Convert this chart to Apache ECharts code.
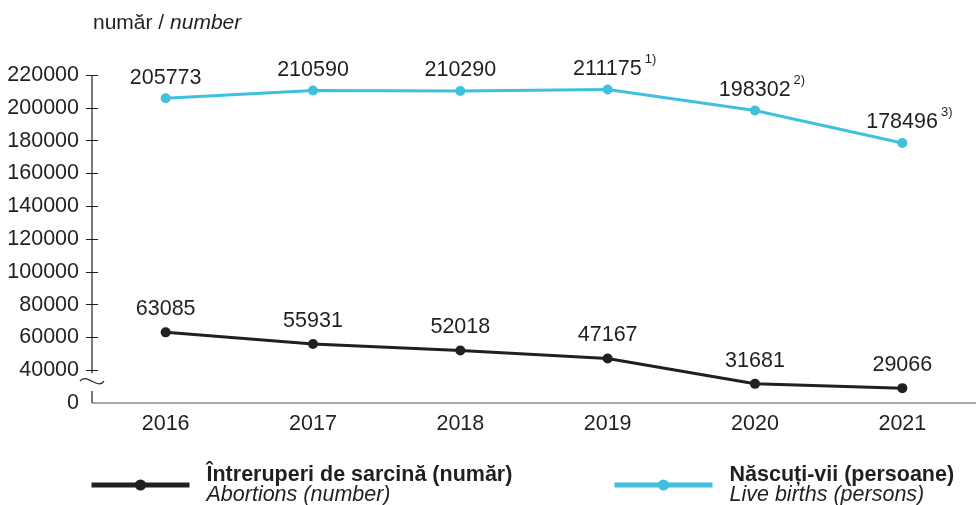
<!DOCTYPE html>
<html>
<head>
<meta charset="utf-8">
<script src="https://cdn.jsdelivr.net/npm/echarts@6/dist/echarts.min.js"></script>
<style>
  html, body { margin: 0; padding: 0; background: #fff; }
  #chart { width: 976px; height: 505px; }
</style>
</head>
<body>
<div id="chart"></div>
<script>
  // date grafic
  const years = ['2016', '2017', '2018', '2019', '2020', '2021'];
  const births = [205773, 210590, 210290, 211175, 198302, 178496];
  const abortions = [63085, 55931, 52018, 47167, 31681, 29066];
  const birthNotes = ['', '', '', '1)', '2)', '3)'];
  const yTicks = [40000, 60000, 80000, 100000, 120000, 140000, 160000, 180000, 200000, 220000];
  const nameAbort = 'Întreruperi de sarcină (număr)';
  const subAbort = 'Abortions (number)';
  const nameBirth = 'Născuți-vii (persoane)';
  const subBirth = 'Live births (persons)';

  const DARK = '#231f20';
  const CYAN = '#3fc1dd';
  const GREY = '#8c8c8c';
  const FONT = '"Liberation Sans", Arial, sans-serif';
  const FS = 21.5;

  const chart = echarts.init(document.getElementById('chart'));

  function legendOpt(name, sub, left) {
    return {
      data: [name],
      left: left,
      top: 464,
      padding: 0,
      itemWidth: 98,
      itemHeight: 14,
      lineStyle: { width: 5 },
      formatter: n => '{b|' + n + '}\n{i|' + sub + '}',
      textStyle: {
        lineHeight: 20,
        rich: {
          b: { fontFamily: FONT, fontSize: FS, fontWeight: 'bold', color: DARK, lineHeight: 20, padding: [0, 0, 0, 12] },
          i: { fontFamily: FONT, fontSize: FS, fontStyle: 'italic', color: DARK, lineHeight: 20, padding: [0, 0, 0, 12] }
        }
      }
    };
  }

  // punctele cu note de subsol: textul centrat pe punct, nota atârnă la dreapta
  const birthData = births.map((v, i) => ({
    value: v,
    label: { offset: [birthNotes[i] ? 7 : 0, 0] }
  }));

  const option = {
    animation: false,
    textStyle: { fontFamily: FONT },
    title: {
      text: '{a|număr / }{b|number}',
      left: 93,
      top: 13,
      padding: 0,
      textStyle: {
        rich: {
          a: { fontFamily: FONT, fontSize: 21, fontWeight: 'normal', color: DARK },
          b: { fontFamily: FONT, fontSize: 21, fontWeight: 'normal', color: DARK, fontStyle: 'italic' }
        }
      }
    },
    legend: [legendOpt(nameAbort, subAbort, 89), legendOpt(nameBirth, subBirth, 612)],
    grid: { left: 92, right: -8, top: 75, bottom: 102 },
    xAxis: {
      type: 'category',
      data: years,
      offset: -3,
      axisLine: { show: false },
      axisTick: { length: 7, lineStyle: { color: '#444' } },
      axisLabel: { fontFamily: FONT, fontSize: FS, color: DARK, margin: 13 }
    },
    yAxis: {
      type: 'value',
      min: 20000,
      max: 220000,
      interval: 20000,
      offset: -6,
      axisLine: { show: false },
      axisTick: { show: true, length: 12, customValues: yTicks, lineStyle: { color: DARK } },
      splitLine: { show: false },
      axisLabel: {
        fontFamily: FONT, fontSize: FS, color: DARK, margin: 19,
        formatter: v => v === 20000 ? '0' : String(v)
      }
    },
    series: [{
      name: nameAbort,
      type: 'line',
      data: abortions,
      symbol: 'circle',
      symbolSize: 10,
      lineStyle: { color: DARK, width: 3 },
      itemStyle: { color: DARK },
      label: {
        show: true, position: 'top', distance: 7,
        fontFamily: FONT, fontSize: FS, color: DARK
      }
    }, {
      name: nameBirth,
      type: 'line',
      data: birthData,
      symbol: 'circle',
      symbolSize: 10,
      lineStyle: { color: CYAN, width: 3 },
      itemStyle: { color: CYAN },
      label: {
        show: true, position: 'top', distance: -1,
        formatter: p => birthNotes[p.dataIndex]
          ? '{v|' + p.value + '}{s|' + birthNotes[p.dataIndex] + '}'
          : '{v|' + p.value + '}',
        rich: {
          v: { fontFamily: FONT, fontSize: FS, color: DARK, lineHeight: 33 },
          s: { fontFamily: FONT, fontSize: 13, color: DARK, verticalAlign: 'top', padding: [0, 0, 20, 3] }
        }
      }
    }]
  };

  chart.setOption(option);

  // axele: Y cu întrerupere (~) între 0 și 40000, X gri
  const c0 = chart.convertToPixel({ xAxisIndex: 0 }, 0);
  const c1 = chart.convertToPixel({ xAxisIndex: 0 }, 1);
  const ax = c0 - (c1 - c0) / 2;
  const yTop = chart.convertToPixel({ yAxisIndex: 0 }, 220000);
  const y40 = chart.convertToPixel({ yAxisIndex: 0 }, 40000);
  const yZero = chart.convertToPixel({ yAxisIndex: 0 }, 20000);
  const ty = y40 + 11;
  const lineSt = { stroke: DARK, lineWidth: 1.2 };

  chart.setOption({
    graphic: [{
      type: 'line',
      shape: { x1: ax, y1: yZero, x2: 976, y2: yZero },
      style: { stroke: GREY, lineWidth: 1.5 }
    }, {
      type: 'line',
      shape: { x1: ax, y1: yTop, x2: ax, y2: y40 + 3 },
      style: lineSt
    }, {
      type: 'line',
      shape: { x1: ax, y1: yZero - 12, x2: ax, y2: yZero },
      style: lineSt
    }, {
      type: 'bezierCurve',
      shape: { x1: ax - 12, y1: ty, cpx1: ax - 6, cpy1: ty - 9, cpx2: ax + 6, cpy2: ty + 9, x2: ax + 12, y2: ty },
      style: { stroke: DARK, lineWidth: 1.2, fill: null }
    }]
  });
</script>
</body>
</html>
